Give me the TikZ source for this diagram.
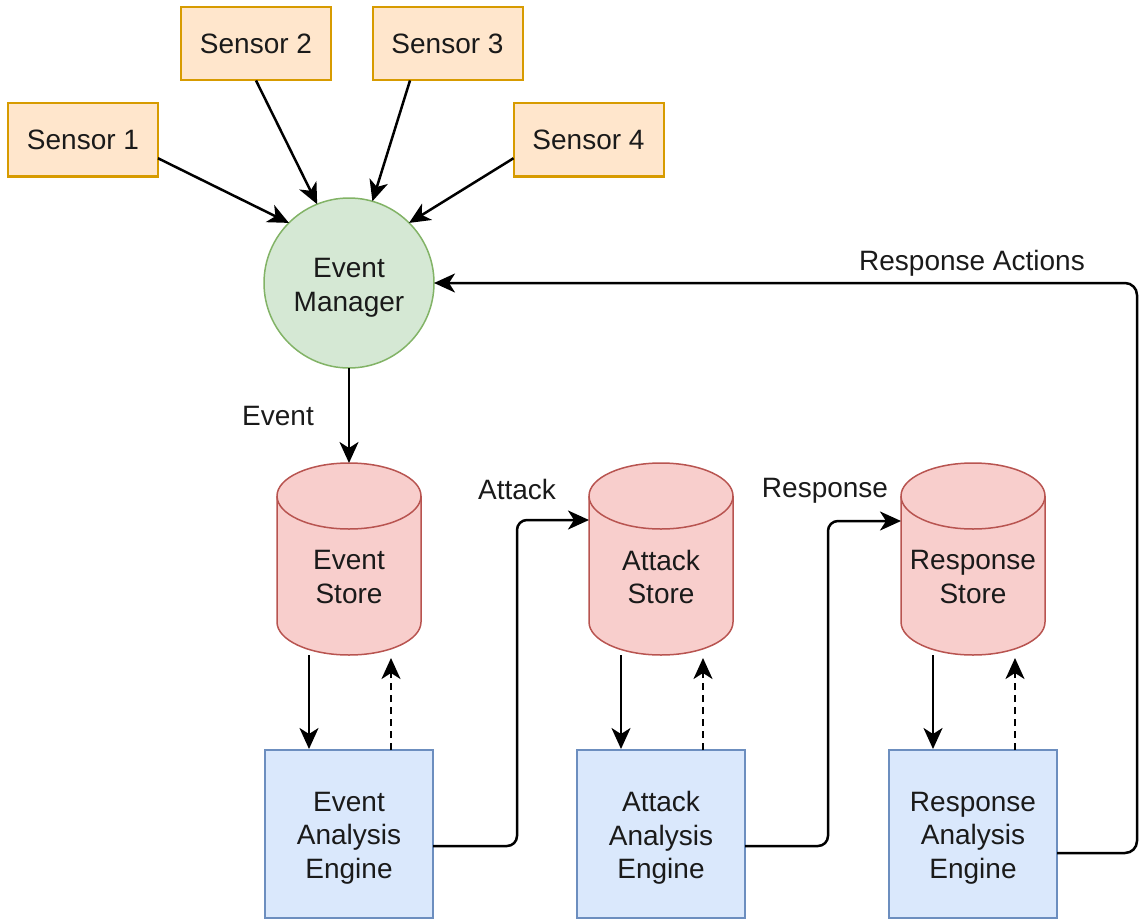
\documentclass[tikz,border=0pt]{standalone}
\usepackage{fontspec}
\setmainfont{Liberation Sans}
\usetikzlibrary{arrows.meta,calc}
\definecolor{sensorfill}{HTML}{FFE6CC}
\definecolor{sensorline}{HTML}{D79B00}
\definecolor{emfill}{HTML}{D5E8D4}
\definecolor{emline}{HTML}{82B366}
\definecolor{storefill}{HTML}{F8CECC}
\definecolor{storeline}{HTML}{B85450}
\definecolor{engfill}{HTML}{DAE8FC}
\definecolor{engline}{HTML}{6C8EBF}
\definecolor{txt}{HTML}{1A1A1A}
\newcommand\storecyl[3]{%
  \path[storeshape] (#2-72,496) -- (#2-72,622) arc[start angle=180,end angle=0,x radius=72,y radius=33] -- (#2+72,496) arc[start angle=0,end angle=-180,x radius=72,y radius=33] -- cycle;
  \draw[storeedge] (#2-72,496) arc[start angle=180,end angle=0,x radius=72,y radius=33];
  \node[storebox] (#1) at (#2,559) {};
  \node[lbl,align=center] (#1-text) at (#2,577) {#3};
}
\begin{document}
\begin{tikzpicture}[x=1pt,y=-1pt,
  every node/.style={font=\fontsize{28}{33.6}\selectfont, text=txt, inner sep=0pt, outer sep=0pt},
  lbl/.style={},
  sensorbox/.style={draw=sensorline, fill=sensorfill, line width=2pt, minimum width=150pt, minimum height=73pt},
  emnode/.style={circle, draw=emline, fill=emfill, line width=1.5pt, minimum size=170pt},
  storeshape/.style={draw=storeline, fill=storefill, line width=1.5pt},
  storeedge/.style={draw=storeline, line width=1.5pt},
  storebox/.style={minimum width=144pt, minimum height=192pt},
  engine/.style={draw=engline, fill=engfill, line width=2pt, minimum width=168pt, minimum height=168pt},
  arr/.style={-{Stealth[length=21pt,width=19pt,inset=6pt]}, line width=2.5pt, draw=black},
  dsh/.style={dash pattern=on 7pt off 5pt},
]
\useasboundingbox (0,0) rectangle (1139,920);

\node[sensorbox] (s1) at (83,140) {Sensor 1};
\node[sensorbox] (s2) at (256,44) {Sensor 2};
\node[sensorbox] (s3) at (447.5,44) {Sensor 3};
\node[sensorbox] (s4) at (588.5,140) {Sensor 4};

\node[emnode] (em) at (349,283) {};
\node[lbl,align=center] (em-text) at (349,288) {Event\\Manager};

\storecyl{es}{349}{Event\\Store}
\storecyl{as}{661}{Attack\\Store}
\storecyl{rs}{973}{Response\\Store}

\node[engine] (eae) at (349,834) {};
\node[lbl,align=center] (eae-text) at (349,838) {Event\\Analysis\\Engine};
\node[engine] (aae) at (661,834) {};
\node[lbl,align=center] (aae-text) at (661,838) {Attack\\Analysis\\Engine};
\node[engine] (rae) at (973,834) {};
\node[lbl,align=center] (rae-text) at (973,838) {Response\\Analysis\\Engine};

% sensors to event manager
\draw[arr] ($(s1.south east)!0.25!(s1.north east)$) -- (em.135);
\draw[arr] (s2.south) -- (em.112);
\draw[arr] ($(s3.south west)!0.25!(s3.south east)$) -- (em.74);
\draw[arr] ($(s4.south west)!0.25!(s4.north west)$) -- (em.45);

% event manager to event store
\draw[arr] (em.south) -- (es.north);
\node[lbl] (lev) at (278,416) {Event};

% stores <-> engines
\draw[arr] ($(es.south)+(-40,0)$) -- ($(eae.north)+(-40,-1)$);
\draw[arr,dsh] ($(eae.north)+(42,0)$) -- ($(es.south)+(42,3)$);
\draw[arr] ($(as.south)+(-40,0)$) -- ($(aae.north)+(-40,-1)$);
\draw[arr,dsh] ($(aae.north)+(42,0)$) -- ($(as.south)+(42,3)$);
\draw[arr] ($(rs.south)+(-40,0)$) -- ($(rae.north)+(-40,-1)$);
\draw[arr,dsh] ($(rae.north)+(42,0)$) -- ($(rs.south)+(42,3)$);

% engines to next stores
\draw[arr, rounded corners=10pt] ($(eae.east)+(0,12)$) -- ++(84,0) |- ($(as.west)+(0,-39)$);
\node[lbl] (lat) at (517,489) {Attack};
\draw[arr, rounded corners=10pt] ($(aae.east)+(0,12)$) -- ++(83,0) |- ($(rs.west)+(0,-38)$);
\node[lbl] (lre) at (825,491) {Response};

% response actions back to event manager
\draw[arr, rounded corners=12pt] ($(rae.east)+(0,19)$) -- ++(80,0) |- (em.east);
\node[lbl] (lra) at (972,263) {Response Actions};
\end{tikzpicture}
\end{document}
